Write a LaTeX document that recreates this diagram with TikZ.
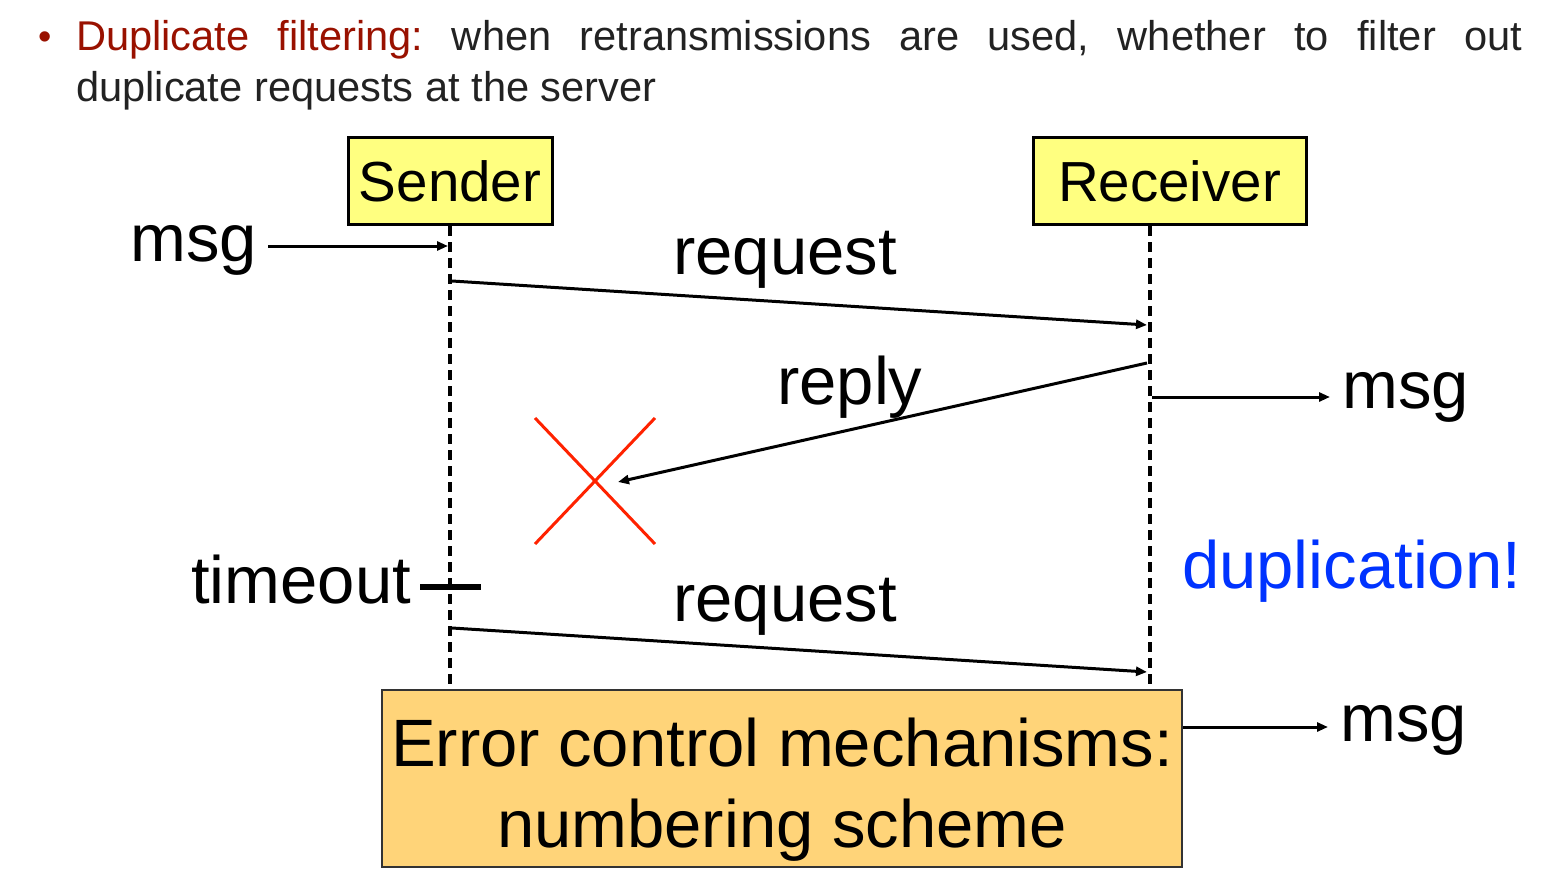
\documentclass[tikz,border=0pt]{standalone}
\usepackage{fontspec}
\setmainfont{Liberation Sans}
\usetikzlibrary{arrows.meta}
\definecolor{dred}{RGB}{153,17,0}
\definecolor{boxyellow}{RGB}{255,255,128}
\definecolor{boxorange}{RGB}{255,212,121}
\definecolor{xred}{RGB}{255,34,0}
\definecolor{dupblue}{RGB}{0,51,255}
\definecolor{txt}{RGB}{34,34,34}
\frenchspacing
\begin{document}
\begin{tikzpicture}[x=1pt,y=-1pt,
  lbl/.style={inner sep=0pt, anchor=base west, font=\fontsize{67}{80}\selectfont},
  boxtxt/.style={inner sep=0pt, anchor=base, font=\fontsize{67}{80}\selectfont},
  toptxt/.style={inner sep=0pt, anchor=base west, text=txt, font=\fontsize{41.6}{50}\selectfont},
  actor/.style={draw, line width=3pt, fill=boxyellow, inner sep=0pt, minimum height=86pt, font=\fontsize{56.5}{67}\selectfont},
  errbox/.style={draw=black!80, line width=2pt, fill=boxorange, inner sep=0pt, minimum width=800pt, minimum height=177pt},
  lifeline/.style={line width=3.5pt, dash pattern=on 10pt off 6pt},
  msgarrow/.style={line width=3pt, -{Triangle[length=11pt,width=9pt]}},
  cross/.style={xred, line width=3pt},
]
\useasboundingbox (0,0) rectangle (1553,880);
% heading
\node[toptxt, text=dred, font=\fontsize{38}{44}\selectfont] (bullet) at (38,50) {•};
\node[toptxt] (line1) at (76,51) {\makebox[1446pt][s]{{\color{dred}Duplicate filtering:} when retransmissions are used, whether to filter out}};
\node[toptxt] (line2) at (76,102) {duplicate requests at the server};
% actors
\node[actor, minimum width=204pt] (sender) at (450,181) {Sender};
\node[actor, minimum width=273pt] (receiver) at (1169.5,181) {Receiver};
% lifelines
\coordinate (sTop) at (450,226);
\coordinate (sBot) at (450,690);
\coordinate (rTop) at (1150,226);
\coordinate (rBot) at (1150,690);
\draw[lifeline] (sTop) -- (sBot);
\draw[lifeline] (rTop) -- (rBot);
% incoming msg
\node[lbl] (msgL) at (130,261) {msg};
\coordinate (msgLin) at (448,246);
\coordinate (msgLout) at (268,246);
\draw[msgarrow] (msgLout) -- (msgLin);
% request 1
\node[lbl] (req1) at (673,274) {request};
\coordinate (req1s) at (452,281);
\coordinate (req1e) at (1147,325);
\draw[msgarrow] (req1s) -- (req1e);
% reply
\node[lbl] (reply) at (777,404) {reply};
\coordinate (reps) at (1147,363);
\coordinate (repe) at (618,482);
\draw[msgarrow] (reps) -- (repe);
% cross
\coordinate (xa) at (535,418);
\coordinate (xb) at (655,544);
\coordinate (xc) at (655,418);
\coordinate (xd) at (535,544);
\draw[cross] (xa) -- (xb) (xc) -- (xd);
% delivered msg 1
\node[lbl] (msgR1) at (1342,408) {msg};
\coordinate (m1s) at (1152,397);
\coordinate (m1e) at (1330,397);
\draw[msgarrow] (m1s) -- (m1e);
% timeout
\node[lbl] (timeout) at (191,603) {timeout};
\coordinate (ta) at (420,587);
\coordinate (tb) at (481,587);
\draw[line width=5.5pt] (ta) -- (tb);
% request 2
\node[lbl] (req2) at (673,621) {request};
\coordinate (req2s) at (452,628);
\coordinate (req2e) at (1147,672);
\draw[msgarrow] (req2s) -- (req2e);
% duplication
\node[lbl, text=dupblue] (dup) at (1182,588) {duplication!};
% error box
\node[errbox] (err) at (782,778.5) {};
\node[boxtxt] (err1) at (782,766) {Error control mechanisms:};
\node[boxtxt] (err2) at (782,847) {numbering scheme};
% delivered msg 2
\node[lbl] (msgR2) at (1340,741) {msg};
\coordinate (m2e) at (1328,727);
\draw[msgarrow] (err.east |- m2e) -- (m2e);
\end{tikzpicture}
\end{document}
